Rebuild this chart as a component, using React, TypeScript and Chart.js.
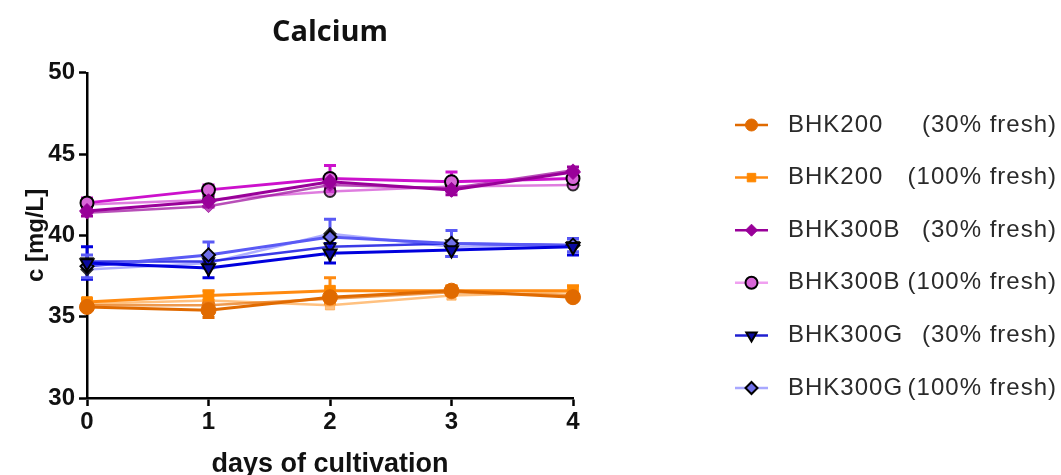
import { useEffect, useRef } from 'react';
import { Chart, registerables } from 'chart.js';
import { drawPoint } from 'chart.js/helpers';

Chart.register(...registerables);

// ---------- data ----------
const days = [0, 1, 2, 3, 4];
const yTickValues = [30, 35, 40, 45, 50];
const titleText = 'Calcium';
const xTitle = 'days of cultivation';
const yTitle = 'c [mg/L]';

const seriesLabels = [
  'BHK200 (30% fresh)',
  'BHK200 (100% fresh)',
  'BHK300B (30% fresh)',
  'BHK300B (100% fresh)',
  'BHK300G (30% fresh)',
  'BHK300G (100% fresh)',
];

// means and errors (legend series)
const bhk200_30 = [35.6, 35.4, 36.2, 36.6, 36.2];
const bhk200_30_err = [0.2, 0.45, 0.3, 0.25, 0.2];
const bhk200_100 = [35.9, 36.3, 36.6, 36.6, 36.6];
const bhk200_100_err = [0.2, 0.3, 0.8, 0.3, 0.3];
const bhk300b_30 = [41.5, 42.1, 43.3, 42.8, 43.9];
const bhk300b_30_err = [0.3, 0.35, 0.4, 0.3, 0.3];
const bhk300b_100 = [42.0, 42.8, 43.5, 43.3, 43.5];
const bhk300b_100_err = [0.3, 0.3, 0.8, 0.6, 0.35];
const bhk300g_30 = [38.3, 38.0, 38.9, 39.1, 39.3];
const bhk300g_30_err = [1.0, 0.6, 0.6, 0.4, 0.5];
const bhk300g_100 = [38.1, 38.8, 39.9, 39.5, 39.4];
const bhk300g_100_err = [0.7, 0.8, 1.1, 0.8, 0.4];

// replicate runs (drawn, not in legend)
const bhk200_30_rep = [35.7, 35.7, 36.1, 36.5, 36.3];
const bhk200_100_rep = [35.8, 36.0, 35.7, 36.3, 36.5];
const bhk300b_30_rep = [41.4, 41.8, 43.1, 42.9, 44.0];
const bhk300b_100_rep = [41.9, 42.2, 42.7, 43.0, 43.1];
const bhk300g_30_rep = [38.4, 38.4, 39.3, 39.5, 39.4];
const bhk300g_100_rep = [37.9, 38.3, 40.1, 39.3, 39.4];

const toXY = (arr: number[]) => arr.map((y, i) => ({ x: days[i], y }));

type Style = {
  line: string;
  legendLine: string;
  fill: string;
  border: string;
  borderWidth: number;
  pointStyle: string;
  rotation: number;
  radius: number;
  rep: string;
};

const styles: Style[] = [
  { line: '#E06A00', legendLine: '#E06A00', fill: '#E06A00', border: '#E06A00', borderWidth: 1, pointStyle: 'circle', rotation: 0, radius: 7.5, rep: 'rgba(232,120,20,0.75)' },
  { line: '#FF8A10', legendLine: '#FF8A10', fill: '#FF8800', border: '#FF8800', borderWidth: 1, pointStyle: 'rect', rotation: 0, radius: 7.5, rep: 'rgba(255,160,60,0.65)' },
  { line: '#990099', legendLine: '#990099', fill: '#990099', border: '#990099', borderWidth: 1, pointStyle: 'rectRot', rotation: 0, radius: 7.5, rep: 'rgba(160,20,160,0.75)' },
  { line: '#CC11CC', legendLine: '#F0A0F0', fill: '#D866D8', border: '#000000', borderWidth: 2, pointStyle: 'circle', rotation: 0, radius: 6.5, rep: 'rgba(210,70,210,0.7)' },
  { line: '#0000DD', legendLine: '#2020D0', fill: '#0A0AA0', border: '#000000', borderWidth: 2, pointStyle: 'triangle', rotation: 180, radius: 7.5, rep: 'rgba(10,10,225,0.8)' },
  { line: '#5A5AF5', legendLine: '#A8A8FF', fill: '#6F6FE8', border: '#000000', borderWidth: 2, pointStyle: 'rectRot', rotation: 0, radius: 6.5, rep: 'rgba(120,120,255,0.6)' },
];

const means = [bhk200_30, bhk200_100, bhk300b_30, bhk300b_100, bhk300g_30, bhk300g_100];
const errs = [bhk200_30_err, bhk200_100_err, bhk300b_30_err, bhk300b_100_err, bhk300g_30_err, bhk300g_100_err];
const reps = [bhk200_30_rep, bhk200_100_rep, bhk300b_30_rep, bhk300b_100_rep, bhk300g_30_rep, bhk300g_100_rep];

// ---------- plugins ----------
const errorBarPlugin = {
  id: 'errorBars',
  beforeDatasetsDraw(chart: any) {
    const ctx = chart.ctx;
    const ys = chart.scales.y;
    chart.data.datasets.forEach((ds: any, i: number) => {
      if (!ds.errors) return;
      const meta = chart.getDatasetMeta(i);
      meta.data.forEach((pt: any, j: number) => {
        const v = ds.data[j].y;
        const e = ds.errors[j];
        const top = ys.getPixelForValue(v + e);
        const bot = ys.getPixelForValue(v - e);
        ctx.save();
        ctx.strokeStyle = ds.errorColor;
        ctx.lineWidth = 3;
        ctx.beginPath();
        ctx.moveTo(pt.x, top);
        ctx.lineTo(pt.x, bot);
        ctx.moveTo(pt.x - 6, top);
        ctx.lineTo(pt.x + 6, top);
        ctx.moveTo(pt.x - 6, bot);
        ctx.lineTo(pt.x + 6, bot);
        ctx.stroke();
        ctx.restore();
      });
    });
  },
};

const sideLegendPlugin = {
  id: 'sideLegend',
  afterDraw(chart: any) {
    const ctx = chart.ctx;
    const items = chart.data.datasets.filter((d: any) => d.inLegend);
    const lineStart = 735;
    const lineEnd = 768;
    const textX = 788;
    const rightX = chart.width - 4;
    const firstY = 125;
    const step = 52.6;
    items.forEach((ds: any, i: number) => {
      const y = firstY + i * step;
      ctx.save();
      ctx.strokeStyle = ds.legendLine;
      ctx.lineWidth = 2.5;
      ctx.beginPath();
      ctx.moveTo(lineStart, y);
      ctx.lineTo(lineEnd, y);
      ctx.stroke();
      ctx.fillStyle = ds.pointBackgroundColor;
      ctx.strokeStyle = ds.pointBorderColor;
      ctx.lineWidth = ds.pointBorderWidth;
      drawPoint(ctx, { pointStyle: ds.pointStyle, rotation: ds.pointRotation, radius: 6, borderWidth: ds.pointBorderWidth }, (lineStart + lineEnd) / 2, y);
      const label: string = ds.label;
      const k = label.indexOf(' (');
      const name = label.slice(0, k);
      const paren = label.slice(k + 1);
      ctx.fillStyle = '#2a2a2a';
      ctx.font = '24px "Liberation Sans", Arial, sans-serif';
      (ctx as any).letterSpacing = '1px';
      ctx.textBaseline = 'middle';
      ctx.textAlign = 'left';
      ctx.fillText(name, textX, y);
      ctx.textAlign = 'right';
      ctx.fillText(paren, rightX, y);
      ctx.restore();
    });
  },
};

// ---------- component ----------
export default function App() {
  const canvasRef = useRef<HTMLCanvasElement | null>(null);

  useEffect(() => {
    if (!canvasRef.current) return;
    const datasets: any[] = [];
    means.forEach((m, i) => {
      const s = styles[i];
      datasets.push({
        label: seriesLabels[i],
        inLegend: true,
        legendLine: s.legendLine,
        data: toXY(m),
        errors: errs[i],
        errorColor: s.line,
        borderColor: s.line,
        backgroundColor: s.fill,
        borderWidth: 3,
        pointStyle: s.pointStyle,
        pointRotation: s.rotation,
        pointRadius: s.radius,
        pointBackgroundColor: s.fill,
        pointBorderColor: s.border,
        pointBorderWidth: s.borderWidth,
        tension: 0,
        clip: false,
      });
    });
    reps.forEach((r, i) => {
      const s = styles[i];
      datasets.push({
        label: seriesLabels[i] + ' rep',
        inLegend: false,
        data: toXY(r),
        borderColor: s.rep,
        backgroundColor: s.rep,
        borderWidth: 2.5,
        pointStyle: s.pointStyle,
        pointRotation: s.rotation,
        pointRadius: s.radius - 1,
        pointBackgroundColor: s.rep,
        pointBorderColor: s.border === '#000000' ? 'rgba(0,0,0,0.8)' : s.rep,
        pointBorderWidth: s.borderWidth,
        tension: 0,
        clip: false,
      });
    });

    const chart = new Chart(canvasRef.current, {
      type: 'line',
      data: { datasets },
      options: {
        responsive: false,
        animation: false,
        layout: { padding: { left: 0, right: 488, top: 0, bottom: 0 } },
        plugins: {
          legend: { display: false },
          tooltip: { enabled: false },
          title: {
            display: true,
            text: titleText,
            fullSize: false,
            color: '#111',
            font: { family: '"Open Sans", sans-serif', size: 29, weight: 'bold', lineHeight: 1.2 },
            padding: { top: 15, bottom: 23 },
          },
        },
        scales: {
          x: {
            type: 'linear',
            min: 0,
            max: 4,
            afterFit: (scale: any) => { scale.height = 77; },
            afterBuildTicks: (scale: any) => { scale.ticks = days.map((d) => ({ value: d })); },
            ticks: {
              color: '#111',
              font: { family: '"Liberation Sans", Arial, sans-serif', size: 24, weight: 'bold' },
              padding: 2,
              maxRotation: 0,
            },
            grid: { drawOnChartArea: false, drawTicks: true, tickLength: 8, tickWidth: 2.5, tickColor: '#000' },
            border: { display: true, color: '#000', width: 2.5 },
            title: {
              display: true,
              text: xTitle,
              color: '#111',
              font: { family: '"Liberation Sans", Arial, sans-serif', size: 27, weight: 'bold', lineHeight: 0.75 },
              padding: { top: 0, bottom: 0 },
            },
          },
          y: {
            type: 'linear',
            min: 30,
            max: 50,
            afterFit: (scale: any) => { scale.width = 87; },
            afterBuildTicks: (scale: any) => { scale.ticks = yTickValues.map((v) => ({ value: v })); },
            ticks: {
              color: '#111',
              font: { family: '"Liberation Sans", Arial, sans-serif', size: 24, weight: 'bold' },
              padding: 4,
            },
            grid: { drawOnChartArea: false, drawTicks: true, tickLength: 8, tickWidth: 2.5, tickColor: '#000' },
            border: { display: true, color: '#000', width: 2.5 },
            title: {
              display: true,
              text: yTitle,
              color: '#111',
              font: { family: '"Liberation Sans", Arial, sans-serif', size: 24, weight: 'bold', lineHeight: 1.2 },
              padding: { top: 22, bottom: 0 },
            },
          },
        },
      } as any,
      plugins: [errorBarPlugin, sideLegendPlugin],
    });
    return () => chart.destroy();
  }, []);

  return (
    <div style={{ position: 'absolute', left: 0, top: 0, width: 1061, height: 475, background: '#fff' }}>
      <canvas ref={canvasRef} width={1061} height={475} style={{ width: 1061, height: 475 }} />
    </div>
  );
}
